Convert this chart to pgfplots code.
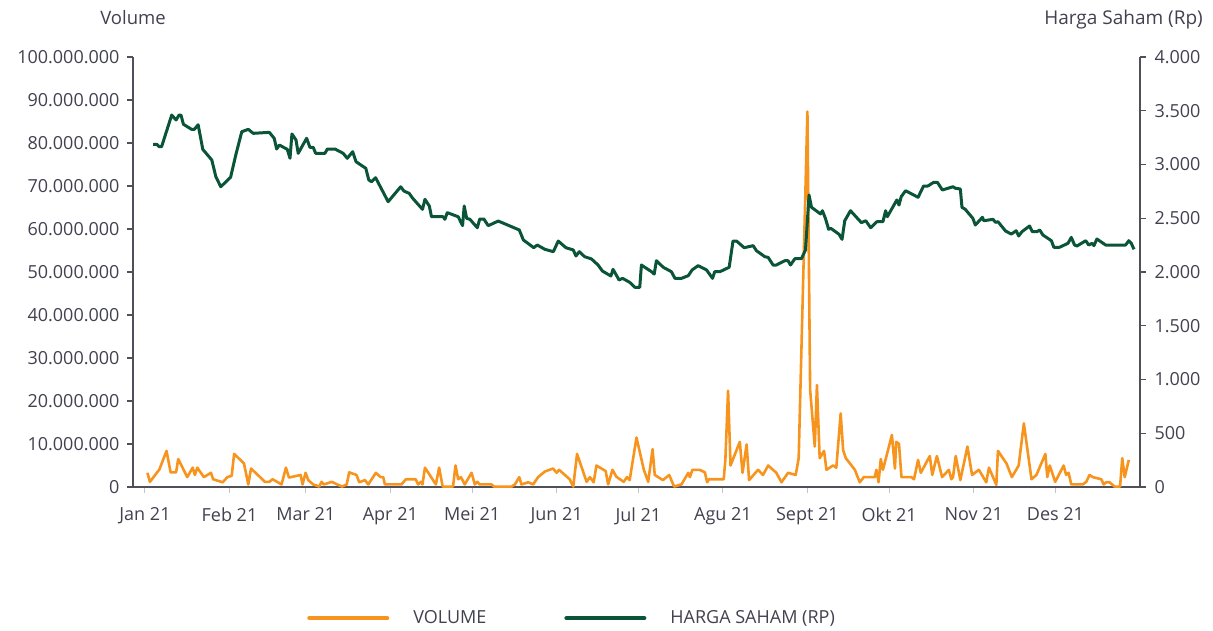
\documentclass[border=0pt]{standalone}
\usepackage{pgfplots}
\usepackage{pgfplotstable}
\pgfplotsset{compat=1.18}
\usepackage{fontspec}
\setmainfont{Open Sans}
\definecolor{vol}{RGB}{247,148,30}
\definecolor{price}{RGB}{10,84,56}
\definecolor{txt}{RGB}{65,65,80}
\definecolor{axc}{RGB}{80,80,90}
\definecolor{xtc}{RGB}{195,195,195}

\pgfplotstableread{
d v
0.9 3300000
1.8 1200000
5.3 4100000
7.9 8400000
9.4 3400000
11.4 3400000
12.2 6500000
15.5 2300000
17.5 4500000
18.3 2800000
19.2 4500000
21.6 2300000
24.2 3300000
25.0 1800000
28.5 1100000
30.2 2300000
31.8 2600000
32.7 7700000
36.3 5500000
37.9 600000
38.9 4300000
44.0 1200000
45.6 1200000
46.8 1800000
50.1 600000
51.7 4500000
52.8 2200000
57.1 2800000
57.8 600000
58.9 3300000
59.9 1600000
61.7 600000
63.9 100000
64.8 1200000
65.6 600000
68.5 1200000
70.5 600000
72.3 100000
74.0 600000
74.9 3400000
77.6 2800000
78.6 1100000
80.7 1600000
81.9 600000
84.7 3300000
86.4 2300000
87.4 2300000
88.0 600000
94.1 600000
95.7 1800000
99.3 1800000
100.2 600000
101.2 1200000
101.8 600000
102.7 4500000
106.7 600000
107.9 4500000
109.2 100000
113.0 100000
113.9 5000000
114.9 1800000
115.9 2300000
117.3 600000
119.8 3300000
121.0 600000
121.9 1200000
122.8 600000
127.1 600000
128.0 100000
134.5 100000
135.7 600000
137.3 2300000
138.1 600000
140.6 1100000
142.4 600000
144.2 2300000
146.7 3600000
149.7 4300000
151.0 3300000
151.9 4000000
155.8 1800000
157.1 100000
158.5 7700000
162.0 1200000
163.2 2300000
164.6 1100000
165.6 5000000
169.0 3700000
169.9 600000
171.5 4000000
172.9 2400000
175.6 1200000
176.8 2300000
177.8 1600000
180.3 11500000
183.0 4000000
184.6 1200000
186.2 8800000
187.0 2800000
190.0 1600000
192.3 2800000
194.1 100000
196.8 600000
199.3 3300000
199.9 2300000
200.8 4000000
203.5 4000000
205.4 3400000
206.2 1100000
206.9 1800000
212.3 1800000
212.9 6300000
213.9 22400000
214.8 5000000
218.2 10500000
219.2 3300000
220.7 9900000
221.6 1600000
224.9 4000000
226.7 2800000
228.6 5000000
231.6 3300000
233.5 1100000
235.9 3300000
238.7 2800000
239.8 6700000
243.0 87300000
244.0 22600000
245.7 9400000
246.5 23700000
247.5 6700000
249.1 8400000
250.0 4000000
252.4 5000000
253.6 4500000
255.2 17100000
256.1 8600000
257.1 6700000
260.4 4000000
262.2 1100000
263.7 2300000
267.7 2300000
268.3 4000000
269.1 1100000
269.9 6500000
270.7 4000000
274.0 12100000
275.1 4300000
275.6 10500000
276.6 10000000
277.5 2300000
281.1 2300000
282.1 1800000
283.6 6300000
284.6 3300000
287.9 7200000
288.8 2800000
290.5 7200000
292.4 2300000
294.9 4000000
295.8 1800000
296.4 2300000
297.4 7200000
299.1 1600000
301.7 9400000
303.4 2800000
305.9 4000000
308.6 1100000
309.6 4500000
312.3 500000
312.9 8400000
316.0 5500000
318.0 2300000
320.5 5000000
322.4 14800000
325.2 1800000
327.0 2800000
330.3 7700000
331.0 2300000
331.9 5000000
333.9 1200000
337.0 5000000
337.9 2800000
338.8 3300000
339.8 600000
344.0 600000
345.3 1200000
346.5 2800000
347.7 2300000
350.8 1800000
351.7 600000
352.6 1100000
353.8 1100000
355.7 100000
357.7 100000
358.5 6700000
359.4 2300000
360.9 6300000
}\voldata

\pgfplotstableread{
d p
3.0 3188
4.3 3188
5.2 3166
6.1 3166
9.8 3460
11.4 3414
12.5 3460
13.2 3460
14.1 3374
17.1 3327
18.1 3327
19.5 3370
21.2 3141
24.5 3042
26.0 2886
27.8 2793
31.4 2881
33.3 3088
35.5 3305
37.9 3327
39.7 3290
45.6 3299
47.4 3244
48.3 3144
49.3 3181
52.2 3141
53.2 3058
53.9 3284
55.4 3228
56.2 3104
59.3 3244
60.5 3160
61.7 3160
62.6 3104
66.0 3104
66.9 3144
69.7 3144
72.7 3104
74.2 3058
76.2 3119
77.4 3026
81.0 2965
82.1 2856
83.1 2840
84.6 2877
89.2 2654
93.8 2793
95.0 2753
96.9 2732
98.2 2686
101.8 2583
102.7 2676
104.3 2614
105.1 2514
109.4 2514
110.0 2490
110.9 2552
114.9 2514
116.5 2431
117.1 2614
118.0 2499
119.2 2490
121.9 2412
122.8 2493
124.3 2493
125.9 2431
129.6 2474
137.3 2391
138.8 2298
142.6 2226
143.9 2251
146.7 2211
149.8 2189
151.6 2288
154.4 2226
157.1 2205
158.1 2149
159.3 2189
161.3 2142
163.8 2121
166.2 2065
167.8 2009
170.9 1963
171.7 2025
173.9 1926
175.2 1941
177.8 1904
179.7 1858
181.5 1858
182.1 2065
185.8 2003
186.8 1981
187.6 2105
190.1 2044
193.1 2003
194.4 1941
196.8 1941
199.3 1966
200.7 2019
202.9 2059
206.0 2019
208.2 1941
209.0 2003
210.9 2003
214.3 2044
215.7 2288
217.0 2288
219.8 2226
223.1 2245
224.3 2198
227.4 2142
228.6 2136
230.4 2065
231.6 2065
234.7 2105
235.9 2105
236.8 2065
238.4 2124
240.8 2124
242.3 2205
243.6 2716
244.5 2602
247.8 2540
248.5 2570
249.6 2499
250.8 2397
251.6 2406
254.6 2351
255.7 2304
256.7 2477
258.8 2570
262.8 2459
264.4 2477
266.2 2412
268.5 2468
270.7 2468
271.7 2570
272.3 2514
275.8 2670
276.6 2623
277.4 2700
279.0 2756
283.6 2695
285.6 2800
287.2 2800
289.3 2834
290.7 2834
292.5 2763
296.4 2793
297.3 2779
299.1 2772
299.7 2602
300.9 2583
303.7 2499
304.6 2437
307.2 2509
307.7 2477
311.1 2490
312.0 2462
312.9 2468
315.7 2381
317.8 2353
319.6 2384
320.5 2335
321.7 2375
324.5 2428
325.5 2375
327.2 2375
328.2 2391
329.4 2344
332.5 2291
333.4 2230
335.5 2230
338.6 2267
339.8 2322
341.0 2251
341.9 2242
345.1 2291
346.2 2251
347.4 2267
348.1 2245
349.2 2307
352.4 2251
359.7 2251
360.9 2291
361.8 2267
362.8 2211
}\pricedata

\pgfplotsset{
  base/.style={
    scale only axis, width=1007pt, height=430pt,
    at={(0pt,0pt)}, anchor=south west,
    xmin=-4.4, xmax=365,
    tick label style={font=\fontsize{18}{22}\selectfont, text=txt},
    tick align=outside,
    major tick length=6pt,
    clip=false,
  }
}

\begin{document}
\begin{tikzpicture}
\path[use as bounding box] (-133pt,-143pt) rectangle (1080pt,487pt);
\begin{axis}[base,
  axis x line*=bottom, axis y line*=left,
  ymin=0, ymax=100000000,
  scaled y ticks=false,
  ytick={0,10000000,20000000,30000000,40000000,50000000,60000000,70000000,80000000,90000000,100000000},
  yticklabels={0,10.000.000,20.000.000,30.000.000,40.000.000,50.000.000,60.000.000,70.000.000,80.000.000,90.000.000,100.000.000},
  yticklabel style={xshift=-4pt},
  xtick={0,31,59,90,120,151,181,212,243,273,304,334},
  xticklabels={Jan 21,Feb 21,Mar 21,Apr 21,Mei 21,Jun 21,Jul 21,Agu 21,Sept 21,Okt 21,Nov 21,Des 21},
  xticklabel style={yshift=-11pt},
  x axis line style={axc, line width=1.6pt, -},
  y axis line style={axc, line width=1.2pt, -},
  xtick style={xtc, line width=1pt},
  ytick style={axc, line width=1.2pt},
]
\addplot[vol, line width=2.6pt, line join=round] table[x=d,y=v]{\voldata};
\end{axis}
\begin{axis}[base,
  axis x line=none, axis y line*=right,
  ymin=0, ymax=4000,
  ytick={0,500,1000,1500,2000,2500,3000,3500,4000},
  yticklabels={0,500,1.000,1.500,2.000,2.500,3.000,3.500,4.000},
  yticklabel style={xshift=5pt},
  y axis line style={axc, line width=1.2pt, -},
  ytick style={axc, line width=1.2pt},
  legend columns=2,
  legend image code/.code={\draw[#1, line width=4pt, line cap=round] (0pt,0pt) -- (78pt,0pt);},
  legend style={at={(0.436,-0.305)}, anchor=center, draw=none, fill=none,
    font=\fontsize{18}{22}\selectfont, text=txt,
    /tikz/every odd column/.append style={column sep=22pt},
    /tikz/every even column/.append style={column sep=76pt}},
]
\addlegendimage{vol, line width=2.6pt}
\addlegendentry{VOLUME}
\addplot[price, line width=3pt, line join=round] table[x=d,y=p]{\pricedata};
\addlegendentry{HARGA SAHAM (RP)}
\end{axis}
\node[anchor=base, text=txt, font=\fontsize{18.5}{22}\selectfont] at (0pt,462pt) {Volume};
\node[anchor=base east, text=txt, font=\fontsize{19}{22}\selectfont, inner sep=0pt] at (1070pt,462pt) {Harga Saham (Rp)};
\end{tikzpicture}
\end{document}
